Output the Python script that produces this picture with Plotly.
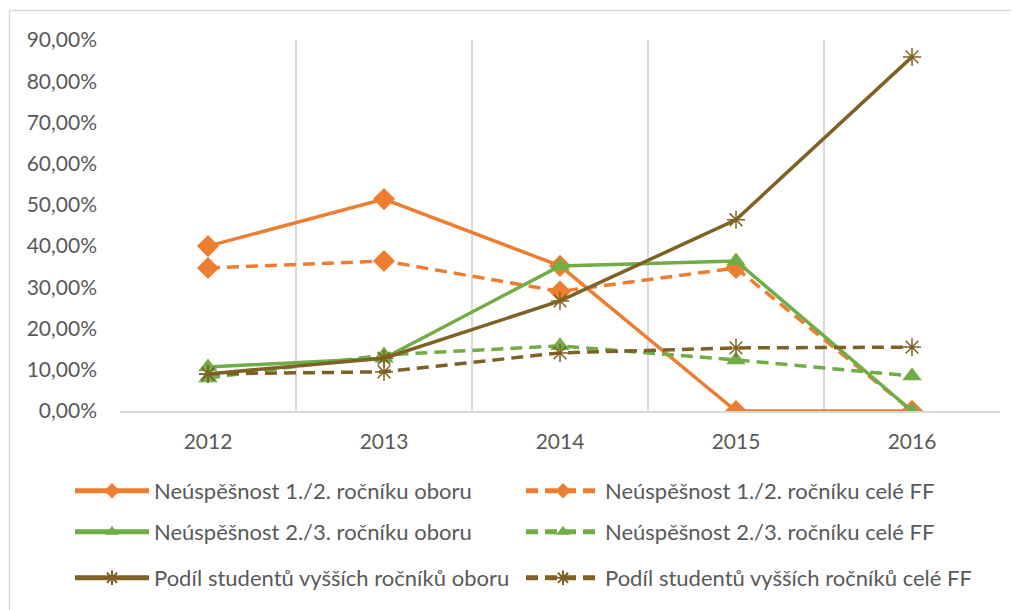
import plotly.graph_objects as go

years = ["2012", "2013", "2014", "2015", "2016"]

neusp12_obor = [0.400, 0.514, 0.352, 0.0, 0.0]
neusp12_ff = [0.347, 0.364, 0.290, 0.347, 0.0]
neusp23_obor = [0.107, 0.128, 0.352, 0.364, 0.0]
neusp23_ff = [0.080, 0.136, 0.158, 0.124, 0.085]
podil_obor = [0.090, 0.128, 0.267, 0.464, 0.859]
podil_ff = [0.090, 0.095, 0.141, 0.153, 0.155]

names = [
    "Neúspěšnost 1./2. ročníku oboru",
    "Neúspěšnost 1./2. ročníku celé FF",
    "Neúspěšnost 2./3. ročníku oboru",
    "Neúspěšnost 2./3. ročníku celé FF",
    "Podíl studentů vyšších ročníků oboru",
    "Podíl studentů vyšších ročníků celé FF",
]

ORANGE = "#ED7D31"
GREEN = "#70AD47"
BROWN = "#7F6025"
FONT = "Lato"

fig = go.Figure()

series = [
    (neusp12_obor, names[0], ORANGE, "solid", "diamond", "legend"),
    (neusp12_ff, names[1], ORANGE, "12px,7px", "diamond", "legend2"),
    (neusp23_obor, names[2], GREEN, "solid", "triangle-up", "legend3"),
    (neusp23_ff, names[3], GREEN, "12px,7px", "triangle-up", "legend4"),
    (podil_obor, names[4], BROWN, "solid", "asterisk-open", "legend5"),
    (podil_ff, names[5], BROWN, "12px,7px", "asterisk-open", "legend6"),
]

for vals, name, color, dash, sym, leg in series:
    marker = dict(symbol=sym, color=color, size=17 if sym != "asterisk-open" else 15)
    if sym == "asterisk-open":
        marker["line"] = dict(color=color, width=1.5)
    fig.add_trace(go.Scatter(
        x=years, y=vals, name=name, mode="lines+markers",
        line=dict(color=color, width=3.5, dash=dash),
        marker=marker, legend=leg, showlegend=True,
    ))

# page body adds an 8px offset; work in screenshot pixel coordinates
OFF = 8
W, H = 1019 - OFF, 610 - OFF
L, T = 120 - OFF, 40 - OFF
R = W - (1000 - OFF)
B = H - (411 - OFF)
pw = W - L - R
ph = H - T - B

def px_x(px):
    return (px - OFF - L) / pw

def px_y(py):
    return (H - B - (py - OFF)) / ph

legend_common = dict(
    orientation="h", itemwidth=74, itemsizing="constant",
    font=dict(family=FONT, size=22, color="#595959"),
    bgcolor="rgba(0,0,0,0)", xanchor="left", yanchor="middle",
    visible=True,
)

col_x = [70, 521]
row_y = [491, 532, 578]
legends = {}
for i, key in enumerate(["legend", "legend2", "legend3", "legend4", "legend5", "legend6"]):
    legends[key] = dict(legend_common, x=px_x(col_x[i % 2]), y=px_y(row_y[i // 2]))

fig.update_layout(
    width=W, height=H,
    showlegend=True,
    margin=dict(l=L, r=R, t=T, b=B, autoexpand=False),
    plot_bgcolor="white", paper_bgcolor="white",
    separators=", ",
    font=dict(family=FONT, color="#595959"),
    xaxis=dict(
        type="category", range=[-0.5, 4.5], tickson="boundaries",
        showgrid=True, gridcolor="#D9D9D9", gridwidth=1.5,
        showline=True, linecolor="#D9D9D9", linewidth=1.5,
        ticks="", tickfont=dict(family=FONT, size=21, color="#595959"),
        ticklabelstandoff=11, zeroline=False,
    ),
    yaxis=dict(
        range=[0, 0.9], dtick=0.1, tick0=0, tickformat=".2%",
        showgrid=False, zeroline=False, showline=False, ticks="",
        tickfont=dict(family=FONT, size=21, color="#595959"),
        ticklabelstandoff=22,
    ),
    shapes=[
        dict(type="line", xref="paper", yref="paper",
             x0=px_x(9.5), x1=px_x(1030), y0=px_y(10.5), y1=px_y(10.5),
             line=dict(color="#D9D9D9", width=1.5)),
        dict(type="line", xref="paper", yref="paper",
             x0=px_x(9.5), x1=px_x(9.5), y0=px_y(10.5), y1=px_y(620),
             line=dict(color="#D9D9D9", width=1.5)),
    ],
    **legends,
)

fig.write_html("out.html")
